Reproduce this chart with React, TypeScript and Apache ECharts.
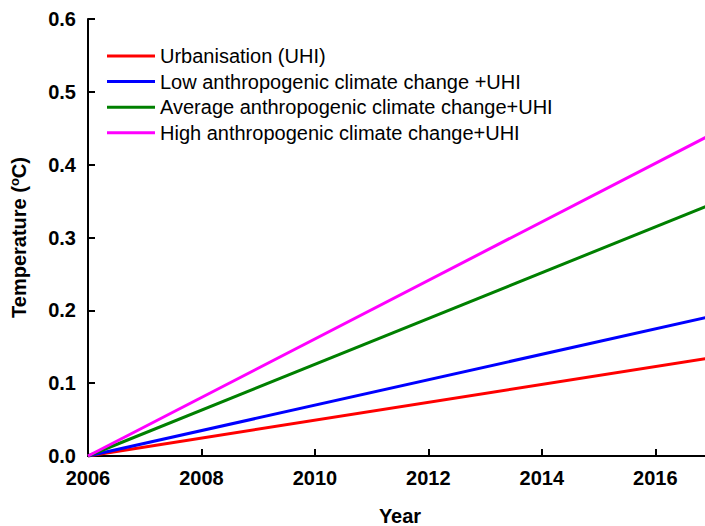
import React, { useEffect, useRef } from "react";
import * as echarts from "echarts";

const seriesNames = [
  "Urbanisation (UHI)",
  "Low anthropogenic climate change +UHI",
  "Average anthropogenic climate change+UHI",
  "High anthropogenic climate change+UHI",
];
const colors = ["#ff0000", "#0000ff", "#008000", "#ff00ff"];
const years = [2006, 2017];
const urbanisation = [0, 0.135];
const lowCC = [0, 0.192];
const avgCC = [0, 0.346];
const highCC = [0, 0.442];
const yTicks = [0, 0.1, 0.2, 0.3, 0.4, 0.5, 0.6];

export default function App() {
  const ref = useRef<HTMLDivElement>(null);
  useEffect(() => {
    if (!ref.current) return;
    const chart = echarts.init(ref.current, null, { renderer: "svg" });
    const all = [urbanisation, lowCC, avgCC, highCC];
    const font = "Liberation Sans, Arial, sans-serif";
    chart.setOption({
      animation: false,
      backgroundColor: "#ffffff",
      textStyle: { fontFamily: font },
      grid: {
        left: 88,
        top: 19,
        width: 624,
        height: 437,
        containLabel: false,
        outerBoundsMode: "none",
      },
      legend: {
        orient: "vertical",
        left: 102,
        top: 41,
        icon: "rect",
        itemWidth: 48,
        itemHeight: 3,
        itemGap: 5.6,
        textStyle: { fontSize: 20, lineHeight: 20, color: "#000", fontFamily: font },
        data: seriesNames,
      },
      xAxis: {
        type: "value",
        min: 2006,
        max: 2017,
        interval: 2,
        name: "Year",
        nameLocation: "middle",
        nameGap: 50,
        nameTextStyle: { fontSize: 20, lineHeight: 20, fontWeight: "bold", color: "#000", fontFamily: font, verticalAlign: "top" },
        axisLine: { show: true, onZero: false, lineStyle: { color: "#000", width: 2 } },
        axisTick: { show: true, inside: true, length: 7, lineStyle: { color: "#000", width: 2 } },
        axisLabel: {
          fontSize: 20,
          fontWeight: "bold",
          color: "#000",
          margin: 12,
          showMaxLabel: false,
          formatter: (v: number) => String(v),
        },
        splitLine: { show: false },
      },
      yAxis: {
        type: "value",
        min: 0,
        max: 0.6,
        interval: 0.1,
        name: "Temperature ({sup|o}C)",
        nameLocation: "middle",
        nameGap: 58,
        nameTextStyle: {
          fontSize: 20,
          fontWeight: "bold",
          color: "#000",
          fontFamily: font,
          rich: {
            sup: { fontSize: 13, fontWeight: "bold", color: "#000", padding: [0, 0, 9, 0], fontFamily: font },
          },
        },
        axisLine: { show: true, lineStyle: { color: "#000", width: 2 } },
        axisTick: { show: true, inside: true, length: 7, lineStyle: { color: "#000", width: 2 } },
        axisLabel: {
          fontSize: 20,
          fontWeight: "bold",
          color: "#000",
          margin: 12,
          formatter: (v: number) => {
            const t = yTicks.find((x) => Math.abs(x - v) < 1e-6);
            return (t !== undefined ? t : v).toFixed(1);
          },
        },
        splitLine: { show: false },
      },
      series: all.map((vals, i) => ({
        name: seriesNames[i],
        type: "line",
        showSymbol: false,
        symbol: "none",
        color: colors[i],
        lineStyle: { width: 3, color: colors[i] },
        data: years.map((y, j) => [y, vals[j]]),
      })),
    });
    return () => chart.dispose();
  }, []);
  return <div ref={ref} style={{ width: 705, height: 526, position: "absolute", left: 0, top: 0 }} />;
}
